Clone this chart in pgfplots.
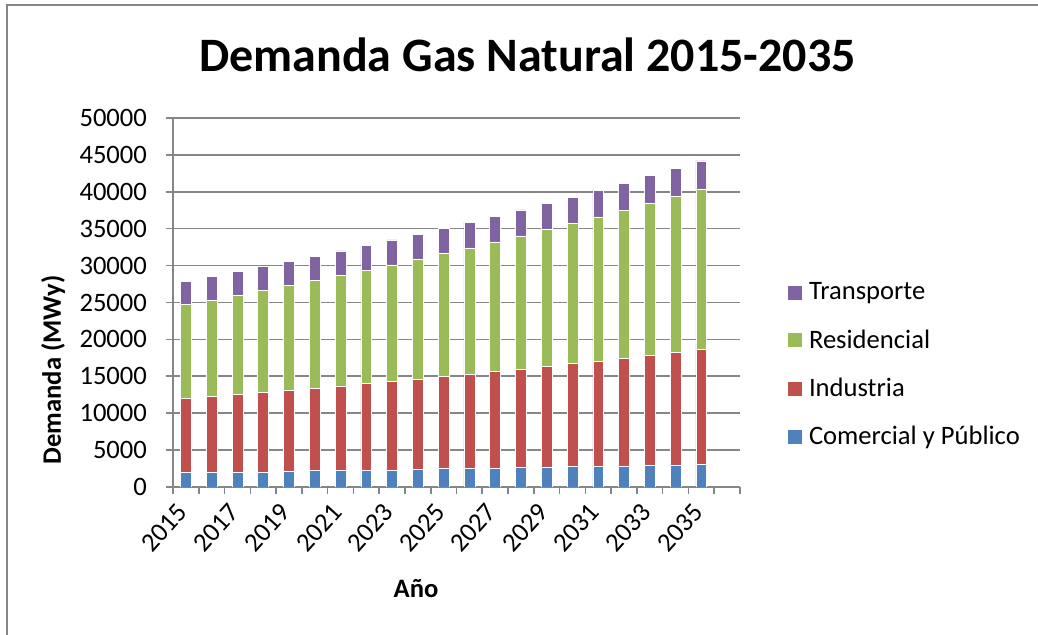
\documentclass[border=0pt]{standalone}
\usepackage{pgfplots}
\pgfplotsset{compat=1.18}
\usepackage{pgfplotstable}
\usepackage{fontspec}
\setmainfont{Carlito}
\definecolor{xlblue}{HTML}{4F81BD}
\definecolor{xlred}{HTML}{C0504D}
\definecolor{xlgreen}{HTML}{9BBB59}
\definecolor{xlpurple}{HTML}{8064A2}
\definecolor{xlgray}{HTML}{868686}
\newcommand{\lbl}{\fontsize{13.3}{15}\selectfont}

% demand by sector, MWy (bar index 0 = 2015)
\pgfplotstableread{
idx com  ind   res   tra
0   1950 10070 12710 3130
1   2000 10300 13020 3220
2   2000 10570 13380 3220
3   2040 10800 13790 3220
4   2130 10980 14160 3260
5   2220 11160 14570 3310
6   2270 11430 14970 3320
7   2270 11750 15380 3310
8   2310 11980 15800 3380
9   2360 12250 16240 3390
10  2490 12490 16650 3430
11  2580 12720 17100 3470
12  2580 13080 17550 3490
13  2620 13350 18060 3530
14  2710 13630 18550 3530
15  2760 13980 19010 3530
16  2850 14210 19550 3620
17  2850 14620 20040 3620
18  2940 14930 20590 3720
19  2990 15290 21130 3730
20  3080 15560 21750 3790
}\demanda

\begin{document}
\begin{tikzpicture}
\useasboundingbox (0,0) rectangle (519pt,317.5pt);
% chart area frame
\draw[xlgray, line width=0.8pt] (3.5pt,0) -- (3.5pt,315pt) -- (519pt,315pt);
\begin{axis}[
  at={(86.5pt,74pt)}, anchor=south west,
  width=283.5pt, height=184.5pt, scale only axis,
  ybar stacked, bar width=0.42,
  xmin=-0.5, xmax=21.5, ymin=0, ymax=50000,
  xtick={0,2,...,20},
  xticklabels={2015,2017,2019,2021,2023,2025,2027,2029,2031,2033,2035},
  minor xtick={-0.5,0.5,...,21.5},
  ytick={0,5000,...,50000},
  scaled y ticks=false,
  /pgf/number format/.cd, fixed, set thousands separator={}, assume math mode=true,
  /pgfplots/.cd,
  axis lines=left,
  axis line style={xlgray, line width=0.8pt, -},
  ymajorgrids,
  grid style={xlgray, line width=0.8pt},
  tick align=outside,
  major tick length=3.5pt, minor tick length=3.5pt,
  major x tick style={draw=none},
  minor x tick style={xlgray, line width=0.8pt},
  y tick style={xlgray, line width=0.8pt},
  tick label style={font=\lbl},
  x tick label style={yshift=-6pt, xshift=-1pt, rotate=48, anchor=east, inner sep=1pt},
  y tick label style={xshift=-6pt},
  every axis plot/.append style={draw=white, line width=0.3pt},
  reverse legend,
  legend cell align=left,
  legend image code/.code={\fill[#1] (0pt,-3.75pt) rectangle (7.5pt,3.75pt);},
  legend style={draw=none, fill=none, at={(1,0.33)}, anchor=west,
    xshift=23.5pt, font=\lbl, row sep=9.5pt, inner sep=0pt,
    nodes={inner xsep=3pt}},
]
\addplot[fill=xlblue] table[x=idx, y=com] {\demanda};
\addplot[fill=xlred] table[x=idx, y=ind] {\demanda};
\addplot[fill=xlgreen] table[x=idx, y=res] {\demanda};
\addplot[fill=xlpurple] table[x=idx, y=tra] {\demanda};
\legend{Comercial y Público, Industria, Residencial, Transporte}
\end{axis}
\node[anchor=base, font=\fontsize{24}{28}\selectfont\bfseries] at (263.75pt,281.5pt)
  {Demanda Gas Natural 2015-2035};
\node[rotate=90, font=\lbl\bfseries] at (26.5pt,132.5pt) {Demanda (MWy)};
\node[anchor=base, font=\lbl\bfseries] at (208pt,18.5pt) {Año};
\end{tikzpicture}
\end{document}
